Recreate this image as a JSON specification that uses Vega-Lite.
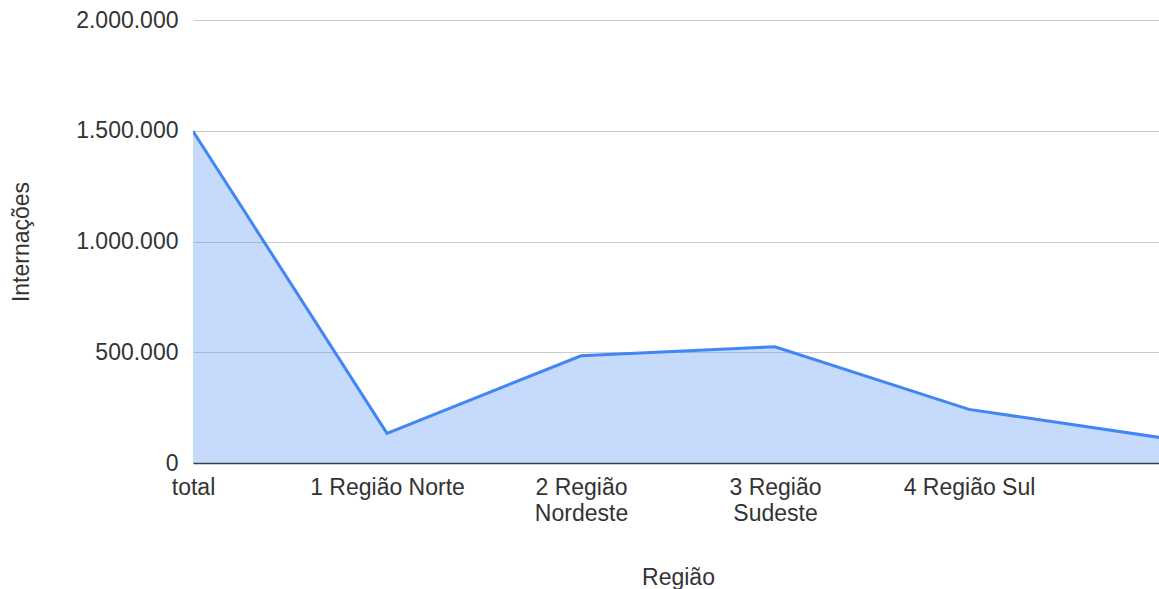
{
  "$schema": "https://vega.github.io/schema/vega-lite/v6.json",
  "autosize": {"type": "none"},
  "width": 966,
  "height": 443,
  "padding": {"left": 193, "top": 20, "right": 0, "bottom": 126},
  "background": "white",
  "config": {
    "locale": {"number": {"decimal": ",", "thousands": ".", "grouping": [3], "currency": ["R$", ""]}},
    "view": {"stroke": null},
    "font": "Liberation Sans"
  },
  "data": {
    "values": [
      {"regiao": "total", "internacoes": 1498000},
      {"regiao": "1 Região Norte", "internacoes": 134000},
      {"regiao": "2 Região Nordeste", "internacoes": 484000},
      {"regiao": "3 Região Sudeste", "internacoes": 525000},
      {"regiao": "4 Região Sul", "internacoes": 242000},
      {"regiao": "5 Região Centro-Oeste", "internacoes": 113000}
    ]
  },
  "encoding": {
    "x": {
      "field": "regiao",
      "type": "ordinal",
      "sort": null,
      "scale": {"type": "point", "padding": 0, "range": [0, 970]},
      "axis": {
        "title": "Região",
        "values": ["total", "1 Região Norte", "2 Região Nordeste", "3 Região Sudeste", "4 Região Sul"],
        "labelExpr": "length(datum.label) > 15 ? [slice(datum.label, 0, 8), slice(datum.label, 9)] : datum.label",
        "labelAngle": 0,
        "labelAlign": "center",
        "labelBaseline": "top",
        "labelPadding": 13,
        "labelLineHeight": 26,
        "labelFontSize": 23,
        "labelColor": "#333333",
        "labelOverlap": false,
        "labelBound": false,
        "ticks": false,
        "grid": false,
        "domain": true,
        "domainColor": "#3c4043",
        "domainWidth": 1.5,
        "titleFontSize": 23,
        "titleFontWeight": "normal",
        "titleColor": "#333333",
        "titlePadding": 41
      }
    },
    "y": {
      "field": "internacoes",
      "type": "quantitative",
      "scale": {"domain": [0, 2000000], "nice": false},
      "axis": {
        "title": "Internações",
        "values": [0, 500000, 1000000, 1500000, 2000000],
        "format": ",d",
        "labelFontSize": 23,
        "labelColor": "#333333",
        "labelPadding": 15,
        "ticks": false,
        "domain": false,
        "grid": true,
        "gridColor": "#cccccc",
        "gridWidth": 1,
        "titleFontSize": 23,
        "titleFontWeight": "normal",
        "titleColor": "#333333",
        "titlePadding": 42
      }
    }
  },
  "layer": [
    {"mark": {"type": "area", "fill": "#4285F4", "fillOpacity": 0.3, "clip": true}},
    {"mark": {"type": "line", "stroke": "#4285F4", "strokeWidth": 3, "clip": true}}
  ]
}
